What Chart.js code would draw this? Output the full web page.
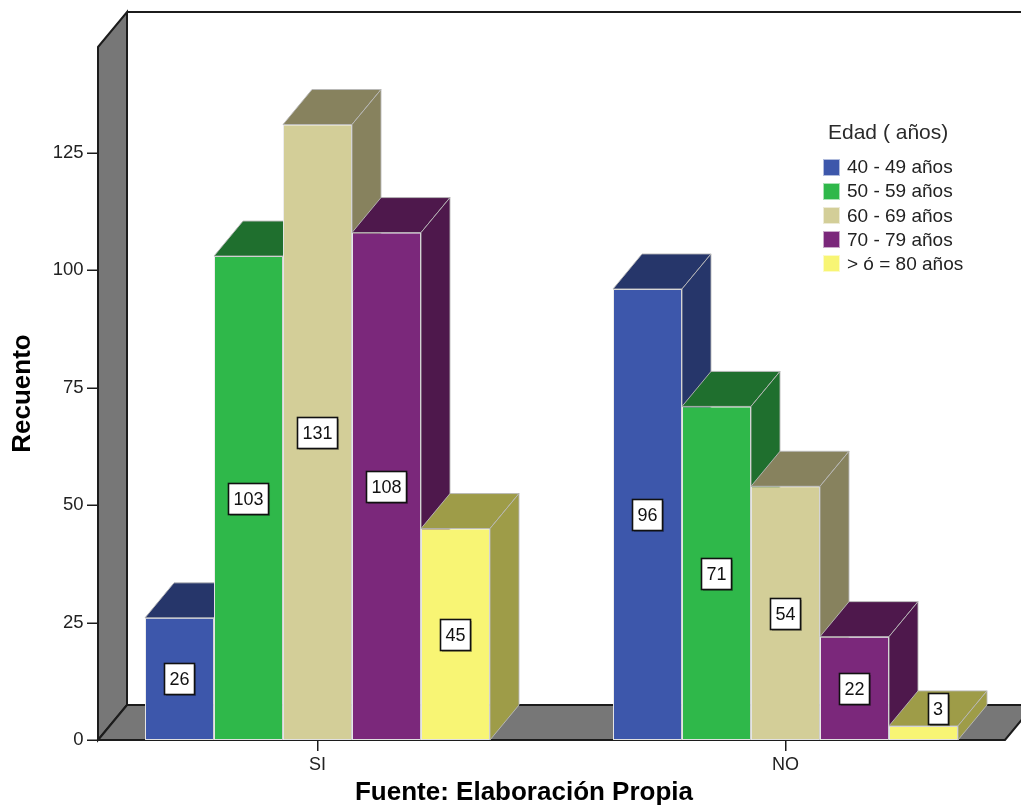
<!DOCTYPE html>
<html>
<head>
<meta charset="utf-8">
<title>Recuento por edad</title>
<script src="https://cdn.jsdelivr.net/npm/chart.js@4.4.1/dist/chart.umd.min.js"></script>
<style>
  html, body { margin: 0; padding: 0; background: #ffffff; }
  #wrap { width: 1021px; height: 808px; }
</style>
</head>
<body>
<div id="wrap"><canvas id="chart" width="1021" height="808"></canvas></div>
<script>
// --- data ---
const categories = ['SI', 'NO'];
const ageGroups = ['40 - 49 años', '50 - 59 años', '60 - 69 años', '70 - 79 años', '> ó = 80 años'];
const counts40to49 = [26, 96];
const counts50to59 = [103, 71];
const counts60to69 = [131, 54];
const counts70to79 = [108, 22];
const counts80plus = [45, 3];
const yTicks = [0, 25, 50, 75, 100, 125];
const yMax = 147.5;
const legendTitle = 'Edad ( años)';
const yTitle = 'Recuento';
const caption = 'Fuente: Elaboración Propia';

// front faces and the darker top/side faces of each bar
const frontColors = ['#3d57ab', '#2fb84a', '#d3ce98', '#7b287b', '#f8f574'];
const shadeColors = ['#26366a', '#1f6f2e', '#87825e', '#4e184c', '#9e9c48'];

const FONT = '"Liberation Sans", Arial, Helvetica, sans-serif';
Chart.defaults.font.family = FONT;

// 3D frame: depth offset and the front edge of the floor
const DX = 29, DY = -35;
const FRAME_L = 98, FRAME_R = 1005;

const series = [counts40to49, counts50to59, counts60to69, counts70to79, counts80plus];

const box3d = {
  id: 'box3d',
  beforeDatasetsDraw(chart) {
    const { ctx, scales: { y } } = chart;
    const base = y.getPixelForValue(0);
    const top = y.getPixelForValue(y.max);
    ctx.save();
    ctx.lineJoin = 'miter';
    ctx.strokeStyle = '#1c1c1c';
    ctx.lineWidth = 2;

    // back wall top and right edge
    ctx.beginPath();
    ctx.moveTo(FRAME_L + DX, top + DY);
    ctx.lineTo(FRAME_R + DX, top + DY);
    ctx.lineTo(FRAME_R + DX, base + DY);
    ctx.stroke();

    // left wall
    ctx.fillStyle = '#777777';
    ctx.beginPath();
    ctx.moveTo(FRAME_L, top);
    ctx.lineTo(FRAME_L + DX, top + DY);
    ctx.lineTo(FRAME_L + DX, base + DY);
    ctx.lineTo(FRAME_L, base);
    ctx.closePath();
    ctx.fill();
    ctx.stroke();

    // floor
    ctx.beginPath();
    ctx.moveTo(FRAME_L, base);
    ctx.lineTo(FRAME_R, base);
    ctx.lineTo(FRAME_R + DX, base + DY);
    ctx.lineTo(FRAME_L + DX, base + DY);
    ctx.closePath();
    ctx.fill();
    ctx.stroke();

    // tick marks on the front edge of the wall
    ctx.lineWidth = 1.5;
    yTicks.forEach(v => {
      const py = Math.round(y.getPixelForValue(v)) + 0.25;
      ctx.beginPath();
      ctx.moveTo(FRAME_L - 11, py);
      ctx.lineTo(FRAME_L, py);
      ctx.stroke();
    });
    ctx.restore();
  },
  // bars are painted here in left-to-right order so each one covers the previous side face
  beforeDatasetDraw() {
    return false;
  },
  afterDatasetsDraw(chart) {
    const { ctx } = chart;
    const metas = chart.data.datasets.map((d, i) => chart.getDatasetMeta(i));
    ctx.save();
    categories.forEach((c, j) => {
      metas.forEach((meta, i) => {
        const el = meta.data[j];
        const { x, y, base, width } = el.getProps(['x', 'y', 'base', 'width'], true);
        const x1 = x - width / 2, x2 = x + width / 2;
        el.draw(ctx);
        ctx.fillStyle = shadeColors[i];
        ctx.strokeStyle = 'rgba(185,185,185,0.9)';
        ctx.lineWidth = 1;
        ctx.beginPath();
        ctx.moveTo(x1, y);
        ctx.lineTo(x1 + DX, y + DY);
        ctx.lineTo(x2 + DX, y + DY);
        ctx.lineTo(x2, y);
        ctx.closePath();
        ctx.fill();
        ctx.stroke();
        ctx.beginPath();
        ctx.moveTo(x2, y);
        ctx.lineTo(x2 + DX, y + DY);
        ctx.lineTo(x2 + DX, base + DY);
        ctx.lineTo(x2, base);
        ctx.closePath();
        ctx.fill();
        ctx.stroke();
      });
    });

    // value boxes
    ctx.font = '18px ' + FONT;
    ctx.textAlign = 'center';
    ctx.textBaseline = 'middle';
    categories.forEach((c, j) => {
      metas.forEach((meta, i) => {
        const el = meta.data[j];
        const { x, y, base } = el.getProps(['x', 'y', 'base'], true);
        const text = String(chart.data.datasets[i].data[j]);
        const w = ctx.measureText(text).width + 10, h = 31;
        let cx = x, cy = (y + base) / 2;
        if (base - y < h + 4) { cx = x + DX / 2; cy = y + DY / 2; }
        const bx = Math.round(cx - w / 2) + 0.5, by = Math.round(cy - h / 2) + 0.5;
        ctx.fillStyle = 'rgba(0,0,0,0.25)';
        ctx.fillRect(bx + 1.5, by + 1.5, w, h);
        ctx.fillStyle = '#ffffff';
        ctx.fillRect(bx, by, w, h);
        ctx.strokeStyle = '#111111';
        ctx.lineWidth = 1.6;
        ctx.strokeRect(bx, by, w, h);
        ctx.fillStyle = '#111111';
        ctx.fillText(text, cx, by + h / 2 + 1);
      });
    });
    ctx.restore();
  },
  afterDraw(chart) {
    const { ctx } = chart;
    ctx.save();
    // legend
    ctx.fillStyle = '#2a2a2a';
    ctx.textAlign = 'left';
    ctx.textBaseline = 'middle';
    ctx.font = '21px ' + FONT;
    ctx.fillText(legendTitle, 828, 133);
    ctx.font = '19px ' + FONT;
    chart.data.datasets.forEach((ds, i) => {
      const cy = 167 + i * 24.2;
      ctx.fillStyle = ds.backgroundColor;
      ctx.fillRect(823, Math.round(cy - 8.5), 17, 17);
      ctx.strokeStyle = 'rgba(255,255,255,0.6)';
      ctx.lineWidth = 1;
      ctx.strokeRect(823.5, Math.round(cy - 8.5) + 0.5, 16, 16);
      ctx.fillStyle = '#222222';
      ctx.fillText(ds.label, 847, cy + 1);
    });
    // source note
    ctx.font = 'bold 26px ' + FONT;
    ctx.textAlign = 'center';
    ctx.fillStyle = '#000000';
    ctx.fillText(caption, 524, 793);
    ctx.restore();
  }
};

new Chart(document.getElementById('chart'), {
  type: 'bar',
  data: {
    labels: categories,
    datasets: ageGroups.map((label, i) => ({
      label: label,
      data: series[i],
      backgroundColor: frontColors[i],
      borderColor: 'rgba(235,235,235,0.95)',
      borderWidth: 1,
      borderSkipped: false,
      categoryPercentage: 345 / 468,
      barPercentage: 1
    }))
  },
  options: {
    responsive: false,
    animation: false,
    events: [],
    layout: { padding: { top: 47, right: 1.5, bottom: 0, left: 0 } },
    plugins: {
      legend: { display: false },
      tooltip: { enabled: false }
    },
    scales: {
      x: {
        offset: true,
        grid: { offset: false, drawOnChartArea: false, drawTicks: true, tickLength: 11, color: '#1c1c1c', lineWidth: 1.5 },
        border: { display: false },
        ticks: { color: '#222222', font: { size: 18 }, padding: 3 },
        afterFit(s) { s.height = 68; }
      },
      y: {
        min: 0,
        max: yMax,
        grid: { display: false, drawTicks: false },
        border: { display: false },
        ticks: { color: '#222222', font: { size: 18.5 }, padding: 0 },
        afterBuildTicks(s) { s.ticks = yTicks.map(v => ({ value: v })); },
        title: {
          display: true,
          text: yTitle,
          color: '#000000',
          font: { size: 26, weight: 'bold' },
          padding: { top: 7, bottom: 0 }
        },
        afterFit(s) { s.width = 83.5; }
      }
    }
  },
  plugins: [box3d]
});
</script>
</body>
</html>
